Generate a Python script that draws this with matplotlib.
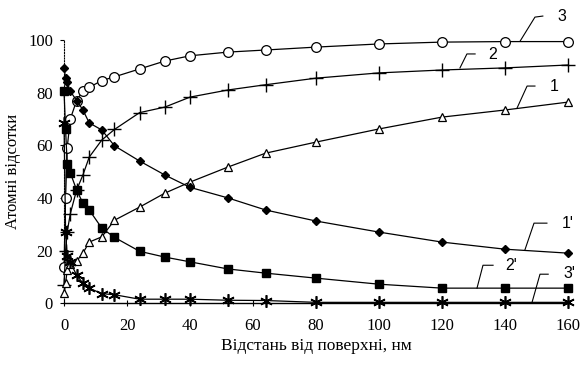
import matplotlib.pyplot as plt

# distance from surface, nm
x = [0, 0.5, 1, 2, 4, 6, 8, 12, 16, 24, 32, 40, 52, 64, 80, 100, 120, 140, 160]

# growing curves 1, 2, 3
curve1 = [4, 7.5, 12.5, 15, 16, 19, 23.2, 25.2, 31.5, 36.5, 41.8, 46, 51.7, 57, 61.2, 66.2, 70.7, 73.4, 76.4]
curve2 = [7, 20, 27, 34, 43, 48.7, 55.5, 62, 66, 72.4, 74.5, 78.3, 81, 83, 85.5, 87.5, 88.6, 89.4, 90.5]
curve3 = [13.7, 40, 59, 70, 77, 80.6, 82, 84.6, 86, 89, 92, 94, 95.4, 96.2, 97.3, 98.5, 99.2, 99.4, 99.4]

# falling curves 1', 2', 3'
curve1p = [89.5, 85.5, 84, 80.5, 77, 73.4, 68.5, 65.8, 59.8, 54, 48.7, 44, 40, 35.4, 31.2, 27, 23.2, 20.5, 19]
curve2p = [80.5, 66, 53, 49.5, 43, 38, 35.4, 28.5, 25, 19.7, 17.5, 15.7, 13, 11.4, 9.5, 7.2, 5.7, 5.7, 5.7]
curve3p = [68.5, 27, 18, 15.6, 10.6, 7.6, 5.7, 3.6, 3.2, 1.5, 1.5, 1.5, 1.1, 1, 0.3, 0.3, 0.3, 0.3, 0.3]

xlabel = "Відстань від поверхні, нм"
ylabel = "Атомні відсотки"

fig = plt.figure(figsize=(5.82, 3.67), dpi=100)
ax = fig.add_axes([0.110, 0.174, 0.866, 0.717])

lw = 0.9
ax.plot(x, curve3, color="black", lw=lw, marker="o", ms=7, mfc="white", mec="black", mew=0.9, clip_on=False, zorder=3)
ax.plot(x, curve2, color="black", lw=lw, marker="+", ms=10, mew=1.0, clip_on=False, zorder=3)
ax.plot(x, curve1, color="black", lw=lw, marker="^", ms=5.5, mfc="white", mec="black", mew=0.9, clip_on=False, zorder=3)
ax.plot(x, curve1p, color="black", lw=lw, marker="D", ms=4.5, mfc="black", mec="black", clip_on=False, zorder=3)
ax.plot(x, curve2p, color="black", lw=lw, marker="s", ms=6, mfc="black", mec="black", clip_on=False, zorder=3)
ax.plot(x, curve3p, color="black", lw=lw, marker=(6, 2, 0), ms=9, mew=1.2, mec="black", clip_on=False, zorder=3)

# curve labels with leader lines: (start on curve, corner, end, text pos, text)
labels = [
    ((144.8, 99.6), (149.5, 108.7), (152.0, 109.1), (156.8, 108.9), "3"),
    ((125.7, 89.4), (127.9, 94.7), (130.5, 94.7), (134.6, 94.5), "2"),
    ((143.8, 74.1), (147.0, 82.5), (149.5, 82.5), (154.3, 82.5), "1"),
    ((146.3, 20.2), (149.2, 30.4), (153.3, 30.4), (158.1, 30.4), "1'"),
    ((131.1, 5.7), (133.0, 14.4), (136.2, 14.4), (140.0, 14.4), "2'"),
    ((148.6, 0.4), (151.1, 11.0), (153.7, 11.0), (158.4, 11.4), "3'"),
]
for p0, p1, p2, pt, txt in labels:
    ax.plot([p0[0], p1[0], p2[0]], [p0[1], p1[1], p2[1]], color="black", lw=0.8, clip_on=False, zorder=4)
    ax.text(pt[0], pt[1], txt, fontsize=11.5, family="Liberation Sans", ha="left", va="center")

ax.set_xlim(0, 160)
ax.set_ylim(0, 100)
ax.set_xticks(range(0, 161, 20))
ax.set_yticks(range(0, 101, 20))

for side in ["top", "right"]:
    ax.spines[side].set_visible(False)
ax.spines["left"].set_linestyle((0, (1, 1.5)))
ax.spines["left"].set_linewidth(0.8)
ax.spines["bottom"].set_linewidth(1.0)

ax.tick_params(axis="x", direction="inout", length=5, width=0.8, pad=8)
ax.tick_params(axis="y", direction="out", length=3, width=0.8, pad=5)
for lab in ax.get_xticklabels() + ax.get_yticklabels():
    lab.set_family("Liberation Serif")
    lab.set_fontsize(12)

ax.set_xlabel(xlabel, family="Liberation Serif", fontsize=12.5, labelpad=3)
ax.yaxis.set_label_coords(-0.085, 0.5)
ax.set_ylabel(ylabel, family="Liberation Serif", fontsize=12)

fig.savefig("out.png", dpi=100)
